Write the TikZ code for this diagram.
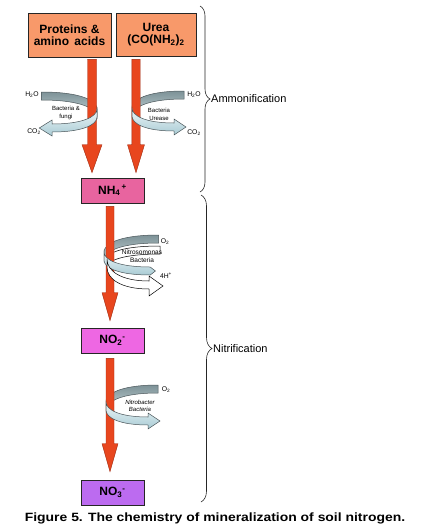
\documentclass[tikz,border=0pt]{standalone}
\usepackage{fontspec}
\setmainfont{Liberation Sans}
\usetikzlibrary{calc,decorations.pathreplacing}
\definecolor{orangebox}{HTML}{F8996A}
\definecolor{pinkbox}{HTML}{E8649F}
\definecolor{magbox}{HTML}{EE67E3}
\definecolor{violbox}{HTML}{BC6BF0}
\definecolor{arrred}{HTML}{E8461E}
\definecolor{arrdark}{HTML}{9E2A10}
\definecolor{bandline}{HTML}{4A5559}
\definecolor{backtop}{HTML}{7D9297}
\definecolor{backbot}{HTML}{C3D3D7}
\definecolor{fronttop}{HTML}{EEF7F9}
\definecolor{frontbot}{HTML}{A9CBD4}
\newcommand\fatarrow[4]{%
  \path[redarr] let \p1=(#1), \p2=(#2) in
    (\x1-#3,\y1) -- (\x1+#3,\y1) -- (\x1+#3,\y2+28pt) -- (\x1+#4,\y2+28pt)
    -- (\x2,\y2) -- (\x1-#4,\y2+28pt) -- (\x1-#3,\y2+28pt) -- cycle;}
\begin{document}
\begin{tikzpicture}[x=1pt,y=-1pt,
  box/.style={draw=black!85, line width=0.6pt, inner sep=0pt, align=center,
    font=\bfseries\fontsize{12}{12.5}\selectfont},
  lab/.style={font=\fontsize{6.8}{7}\selectfont, inner sep=0.5pt},
  blab/.style={font=\fontsize{6}{6.5}\selectfont, inner sep=0pt, align=center},
  side/.style={font=\fontsize{11}{12}\selectfont, inner sep=1pt, anchor=west},
  redarr/.style={fill=arrred, draw=arrdark, line width=0.4pt},
  backband/.style={draw=bandline, line width=0.5pt, top color=backtop, bottom color=backbot},
  frontband/.style={draw=bandline, line width=0.5pt, top color=fronttop, bottom color=frontbot},
  whiteband/.style={draw=black, line width=0.5pt, fill=white},
  bracestyle/.style={draw=black!85, line width=0.6pt, decorate},
  swback/.pic={\path[backband] (52,-21) .. controls (14,-21) and (0,-12) .. (0,-4)
     -- (0,4) .. controls (0,-4) and (14,-13) .. (52,-13) -- cycle;},
  swfront/.pic={\path[frontband] (0,-4) .. controls (0,4) and (14,11) .. (42,11)
     -- (42,7) -- (54,15) -- (42,23) -- (42,19) .. controls (14,19) and (0,12) .. (0,4) -- cycle;},
  swfrontb/.pic={\path[frontband] (0,-4) .. controls (0,4) and (14,11) .. (44,11)
     -- (49,15) -- (44,19) .. controls (14,19) and (0,12) .. (0,4) -- cycle;},
  whback/.pic={\path[whiteband] (53,-17) .. controls (15,-17) and (0,-10) .. (0,-4)
     -- (0,4) .. controls (0,-2) and (15,-9) .. (53,-9) -- cycle;},
  whfront/.pic={\path[whiteband] (0,-4) .. controls (0,8) and (14,18) .. (42,18)
     -- (42,13) -- (56,23) -- (42,33) -- (42,26) .. controls (14,26) and (0,16) .. (0,4) -- cycle;}
]
\useasboundingbox (0,0) rectangle (428,531);

% boxes
\node[box, fill=orangebox, minimum width=83pt, minimum height=44pt] (prot) at (69.5,35) {Proteins \&\\amino\, acids};
\node[box, fill=orangebox, minimum width=80pt, minimum height=43pt] (urea) at (156,34.5) {Urea\\(CO(NH\textsubscript{2})\textsubscript{2}};
\node[box, fill=pinkbox, minimum width=63pt, minimum height=25pt] (nh4) at (112.5,190.5) {NH\textsubscript{4}\textsuperscript{\,+}};
\node[box, fill=magbox, minimum width=63pt, minimum height=25pt] (no2) at (112.5,340.5) {NO\textsubscript{2}\textsuperscript{-}};
\node[box, fill=violbox, minimum width=63pt, minimum height=25pt] (no3) at (112.5,492.5) {NO\textsubscript{3}\textsuperscript{-}};

% arrow end points
\coordinate (a1s) at ($(prot.south)+(22.5,2)$);
\coordinate (a1e) at ($(nh4.north)+(-20.5,-5)$);
\coordinate (a2s) at ($(urea.south)+(-20,3)$);
\coordinate (a2e) at ($(nh4.north)+(23.5,-5)$);
\coordinate (a3s) at ($(nh4.south)+(-2.5,3)$);
\coordinate (a3e) at ($(no2.north)+(-2.5,-7)$);
\coordinate (a4s) at ($(no2.south)+(-2.5,5)$);
\coordinate (a4e) at ($(no3.north)+(-2.5,-8)$);

% back parts of the swooshes
\pic[xscale=-1.07] at (97,113) {swback};
\pic at (132,112) {swback};
\pic[xscale=1.05] at (104,256) {swback};
\pic at (107,263) {whback};
\pic at (106,406) {swback};

% red arrows
\fatarrow{a1s}{a1e}{4.5pt}{10pt}
\fatarrow{a2s}{a2e}{4.2pt}{8.5pt}
\fatarrow{a3s}{a3e}{4pt}{8pt}
\fatarrow{a4s}{a4e}{4pt}{8pt}

% front parts of the swooshes
\pic[xscale=-1.07] at (97,113) {swfront};
\pic at (132,112) {swfront};
\pic[xscale=1.05] at (104,256) {swfrontb};
\pic at (107,263) {whfront};
\pic at (106,406) {swfront};

% small labels
\node[lab] (h2oL) at (32,95) {H\textsubscript{2}O};
\node[lab] (co2L) at (34,132) {CO\textsubscript{2}};
\node[lab] (h2oR) at (194,95) {H\textsubscript{2}O};
\node[lab] (co2R) at (194,133) {CO\textsubscript{2}};
\node[blab] (bf) at (66,113) {Bacteria \&\\[1pt]fungi};
\node[blab] (bu) at (159,114.5) {Bacteria\\[1pt]Urease};
\node[lab] (o2a) at (165,242) {O\textsubscript{2}};
\node[lab] (hplus) at (166,276) {4H\textsuperscript{+}};
\node[blab, font=\fontsize{6.5}{7}\selectfont] (nsm) at (142,256) {Nitrosomonas\\[0.5pt]Bacteria};
\node[lab] (o2b) at (166,390) {O\textsubscript{2}};
\node[blab, font=\itshape\fontsize{6}{6.5}\selectfont] (nbc) at (140,405.5) {Nitrobacter\\[0.5pt]Bacteria};

% braces
\draw[bracestyle, decoration={brace, amplitude=10pt}] (200,6) -- (200,192);
\node[side] (amm) at (210,99) {Ammonification};
\draw[bracestyle, decoration={brace, amplitude=11pt}] (201,195) -- (201,502);
\node[side] (nit) at (212,348.5) {Nitrification};

% caption
\node[font=\bfseries\fontsize{12}{13}\selectfont, inner sep=0pt] (cap) at (215,518)
  {\scalebox{1.16}[1]{Figure 5. The chemistry of mineralization of soil nitrogen.}};
\end{tikzpicture}
\end{document}
